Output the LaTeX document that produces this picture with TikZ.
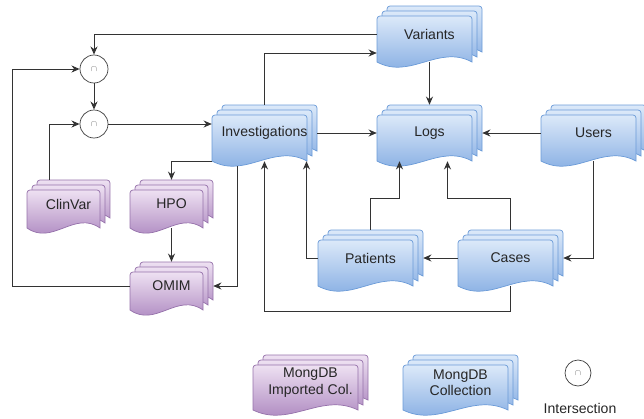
\documentclass[tikz,border=0pt]{standalone}
\usepackage{fontspec}
\setmainfont{Liberation Sans}
\usepackage{tikz}
\usetikzlibrary{calc,arrows.meta}

\definecolor{bluetop}{HTML}{DCE9F9}
\definecolor{bluebot}{HTML}{7BA6E0}
\definecolor{blueline}{HTML}{6B9BD8}
\definecolor{purptop}{HTML}{EEE1F2}
\definecolor{purpbot}{HTML}{A37AB8}
\definecolor{purpline}{HTML}{9672AB}

\def\px{0.03cm}

\tikzset{
  bluestack/.style={top color=bluetop, bottom color=bluebot, draw=blueline, line width=0.6pt},
  purpstack/.style={top color=purptop, bottom color=purpbot, draw=purpline, line width=0.6pt},
  stacktext/.style={inner sep=0pt, align=center, text=black!85, font=\fontsize{12}{14}\selectfont},
  isect/.style={circle, draw=black!75, fill=white, line width=0.6pt, minimum size=28*\px, inner sep=0pt, text=black!55, font=\scriptsize},
  link/.style={draw=black!80, line width=0.8pt, -{Stealth[length=7pt,width=6pt]}}
}

% stack of three documents: name, x, y (front top left), width, height, style, text
\newcommand{\mstack}[7]{%
  \foreach \lay in {2,1,0}{
    \path[#6] ({#2+5*\lay},{#3-5*\lay+#5}) -- ({#2+5*\lay},{#3-5*\lay+3})
      arc[start angle=180, end angle=270, radius=3] -- ({#2+5*\lay+#4-3},{#3-5*\lay})
      arc[start angle=270, end angle=360, radius=3] -- ({#2+5*\lay+#4},{#3-5*\lay+#5})
      .. controls ({#2+5*\lay+0.65*#4},{#3-5*\lay+#5-18}) and ({#2+5*\lay+0.35*#4},{#3-5*\lay+#5+18}) .. ({#2+5*\lay},{#3-5*\lay+#5}) -- cycle;
  }
  \node[stacktext, minimum width={(#4+10)*\px}, minimum height={(#5+10)*\px}] (#1) at ({#2+(#4+10)/2},{#3-10+(#5+10)/2}) {#7};
}

\begin{document}
\begin{tikzpicture}[x=0.03cm, y=-0.03cm]
\useasboundingbox (0,0) rectangle (644,418);

% collections
\mstack{variants}{377}{16}{95}{46}{bluestack}{Variants}
\mstack{logs}{377}{115}{95}{46}{bluestack}{Logs}
\mstack{inv}{212}{115}{95}{46}{bluestack}{Investigations}
\mstack{users}{541}{115}{95}{46}{bluestack}{Users}
\mstack{patients}{318}{240}{95}{46}{bluestack}{Patients}
\mstack{cases}{458}{240}{95}{46}{bluestack}{Cases}
\mstack{clinvar}{27}{190}{73}{38}{purpstack}{ClinVar}
\mstack{hpo}{130}{190}{73}{38}{purpstack}{HPO}
\mstack{omim}{130}{272}{73}{38}{purpstack}{OMIM}

% intersections
\node[isect] (c1) at (94,69) {$\cap$};
\node[isect] (c2) at (94,124) {$\cap$};

% connectors
\draw[link] (variants.west) -| (c1);
\draw[link] (inv.north) |- ($(variants.west)+(0,19)$);
\draw[link] (c1) -- (c2);
\draw[link] (omim.west) -| ($(c1.west)+(-67,0)$) -- (c1.west);
\draw[link] ($(clinvar.north)+(-19,0)$) |- (c2.west);
\draw[link] (c2) -- (c2 -| inv.west);
\draw[link] (inv.south west) -| (hpo.north);
\draw[link] (hpo) -- (omim);
\draw[link] ($(inv.south)+(-27,5)$) |- (omim.east);
\draw[link] (inv.east) -- (logs.west);
\draw[link] (variants) -- (logs);
\draw[link] (users.west) -- (logs.east);
\draw[link] (patients.north) |- ($(logs.south)+(-30,37)$) -- ($(logs.south)+(-30,0)$);
\draw[link] (cases.north) |- ($(logs.south)+(18,37)$) -- ($(logs.south)+(18,0)$);
\draw[link] (patients.west) -| ($(inv.south)+(42,0)$);
\draw[link] (cases.west) -- (patients.east);
\draw[link] (users.south) |- (cases.east);
\draw[link] (cases.south) -- ++(0,25) -| (inv.south);

% legend
\mstack{lgimp}{253}{365}{105}{45}{purpstack}{MongDB\\Imported Col.}
\mstack{lgcoll}{403}{365}{105}{45}{bluestack}{MongDB\\Collection}
\node[isect, minimum size=26*\px] (lgcirc) at (578,373) {$\cap$};
\node[stacktext] (lgtext) at (580,408) {Intersection};
\end{tikzpicture}
\end{document}
